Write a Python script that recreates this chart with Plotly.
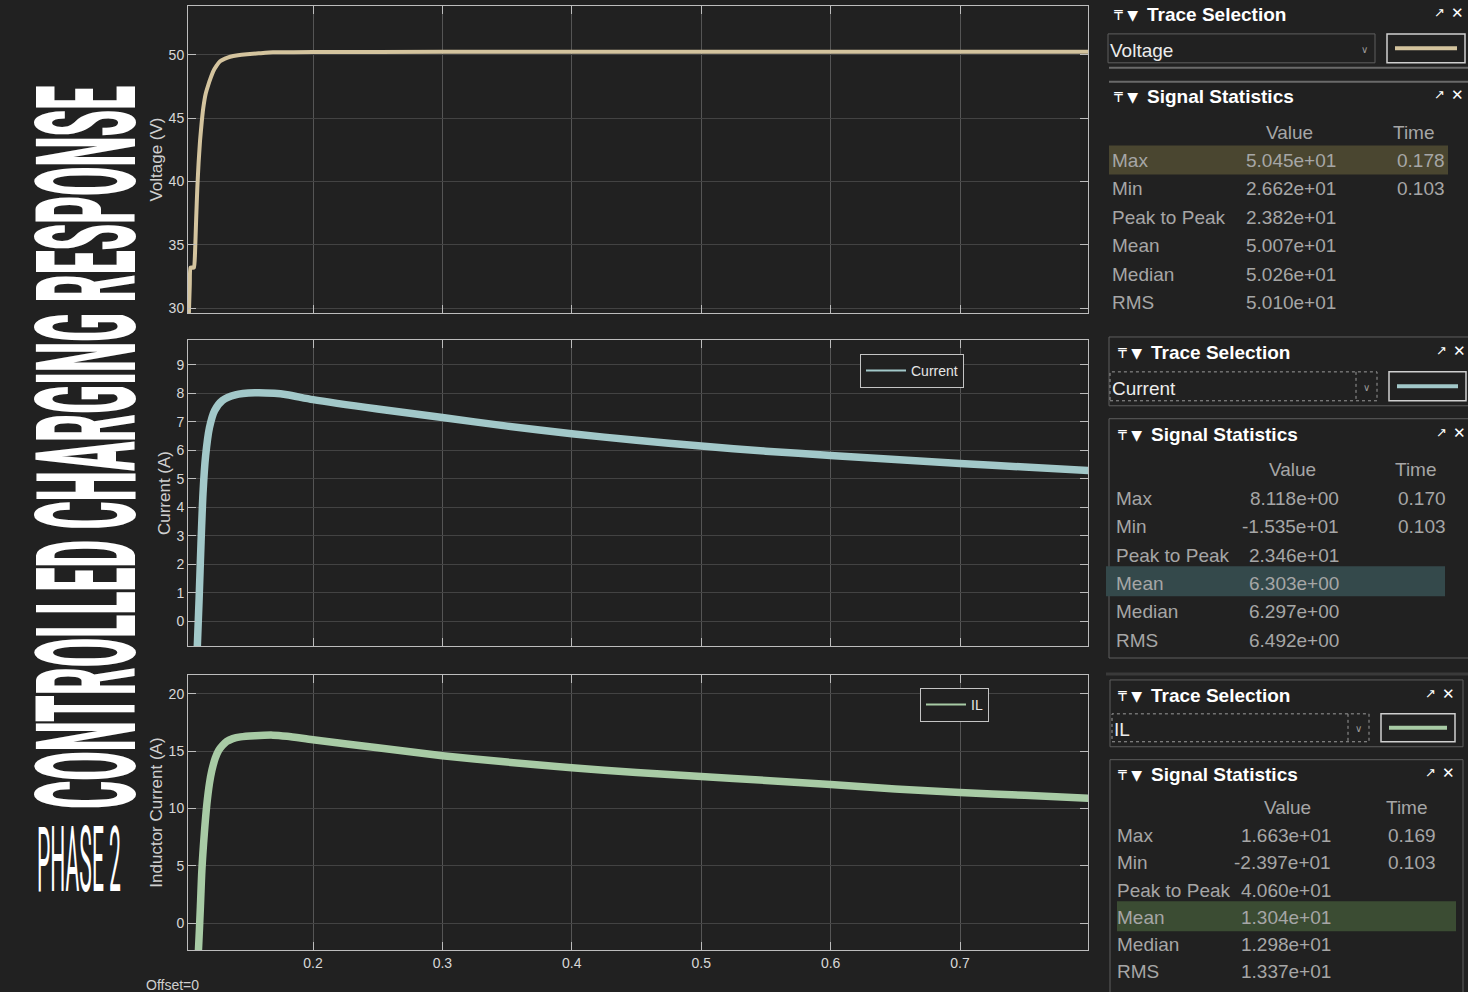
import json
import plotly.graph_objects as go

W, H = 1468, 992

# ---------------- data ----------------
time_v = [0.1033, 0.1040, 0.1048, 0.1053, 0.1080, 0.1088, 0.1097, 0.1106, 0.1116, 0.1127,
          0.1140, 0.1152, 0.1170, 0.1190, 0.1210, 0.1229, 0.1255, 0.1282, 0.1320, 0.1360,
          0.1420, 0.1490, 0.1580, 0.1690, 0.2000, 0.3000, 0.4000, 0.5000, 0.6000, 0.7000, 0.8000]
voltage = [26.62, 29.3, 31.9, 33.2, 33.2, 34.3, 37.0, 39.5, 41.5, 43.2,
           44.7, 45.8, 46.9, 47.6, 48.2, 48.7, 49.15, 49.5, 49.7, 49.85,
           49.97, 50.05, 50.12, 50.2, 50.22, 50.24, 50.24, 50.24, 50.24, 50.24, 50.24]

time_i = [0.1033, 0.1060, 0.1090, 0.1105, 0.1120, 0.1135, 0.1150, 0.1170, 0.1200, 0.1240,
          0.1300, 0.1400, 0.1550, 0.1700, 0.1800, 0.2000, 0.2500, 0.3000, 0.3500, 0.4000,
          0.4500, 0.5000, 0.5500, 0.6000, 0.6500, 0.7000, 0.7500, 0.8000]
current = [-15.35, -9.0, -3.0, -1.0, 0.8, 2.8, 4.5, 5.8, 6.8, 7.4,
           7.75, 7.95, 8.02, 8.0, 7.95, 7.78, 7.45, 7.15, 6.85, 6.58,
           6.35, 6.15, 5.97, 5.82, 5.68, 5.54, 5.41, 5.29]

time_il = [0.1033, 0.1080, 0.1100, 0.1115, 0.1130, 0.1141, 0.1160, 0.1180, 0.1200, 0.1218,
           0.1245, 0.1270, 0.1300, 0.1334, 0.1380, 0.1440, 0.1550, 0.1690, 0.1800, 0.2000,
           0.2500, 0.3000, 0.3500, 0.4000, 0.4500, 0.5000, 0.5500, 0.6000, 0.6500, 0.7000,
           0.7500, 0.8000]
inductor_current = [-23.97, -10.0, -5.0, -2.3, 1.5, 4.6, 7.8, 10.4, 12.2, 13.3,
                    14.4, 15.05, 15.5, 15.85, 16.1, 16.25, 16.35, 16.4, 16.3, 16.0,
                    15.3, 14.6, 14.05, 13.55, 13.15, 12.8, 12.45, 12.1, 11.7, 11.4,
                    11.15, 10.9]

x_ticks = [0.2, 0.3, 0.4, 0.5, 0.6, 0.7]
x_tick_labels = ["0.2", "0.3", "0.4", "0.5", "0.6", "0.7"]
v_ticks = [30, 35, 40, 45, 50]
i_ticks = [0, 1, 2, 3, 4, 5, 6, 7, 8, 9]
il_ticks = [0, 5, 10, 15, 20]

stat_names = ["Max", "Min", "Peak to Peak", "Mean", "Median", "RMS"]
voltage_stat_values = ["5.045e+01", "2.662e+01", "2.382e+01", "5.007e+01", "5.026e+01", "5.010e+01"]
voltage_stat_times = ["0.178", "0.103", "", "", "", ""]
current_stat_values = ["8.118e+00", "-1.535e+01", "2.346e+01", "6.303e+00", "6.297e+00", "6.492e+00"]
current_stat_times = ["0.170", "0.103", "", "", "", ""]
il_stat_values = ["1.663e+01", "-2.397e+01", "4.060e+01", "1.304e+01", "1.298e+01", "1.337e+01"]
il_stat_times = ["0.169", "0.103", "", "", "", ""]

title_text = "CONTROLLED CHARGING RESPONSE"
phase_text = "PHASE 2"

# ---------------- styling ----------------
BG = "#212121"
UI = "Liberation Sans, Arial, sans-serif"
C_V = "#d4c49e"
C_I = "#a2c8c9"
C_IL = "#a8cba5"
TXT = "#a6a6a6"
BORDER = "#5e5e5e"


def X(px):
    return px / W


def Y(py):
    return 1 - py / H


fig = go.Figure()
fig.add_trace(go.Scatter(x=time_v, y=voltage, name="Voltage", mode="lines",
                         line=dict(color=C_V, width=4, shape="spline", smoothing=0.4),
                         xaxis="x", yaxis="y", showlegend=False))
fig.add_trace(go.Scatter(x=time_i, y=current, name="Current", mode="lines",
                         line=dict(color=C_I, width=7.5, shape="spline", smoothing=0.7),
                         xaxis="x2", yaxis="y2", showlegend=False))
fig.add_trace(go.Scatter(x=time_il, y=inductor_current, name="IL", mode="lines",
                         line=dict(color=C_IL, width=7.5, shape="spline", smoothing=0.7),
                         xaxis="x3", yaxis="y3", showlegend=False))
# thin legend entries
fig.add_trace(go.Scatter(x=[None], y=[None], name="Current", mode="lines",
                         line=dict(color=C_I, width=2), xaxis="x2", yaxis="y2",
                         legend="legend"))
fig.add_trace(go.Scatter(x=[None], y=[None], name="IL", mode="lines",
                         line=dict(color=C_IL, width=2), xaxis="x3", yaxis="y3",
                         legend="legend2"))

x_dom = [X(188), X(1088)]
y_doms = [[Y(314), Y(6)], [Y(648), Y(341)], [Y(953), Y(677)]]
y_ranges = [[29.61, 53.86], [-0.875, 9.875], [-2.35, 21.65]]
y_tickvals = [v_ticks, i_ticks, il_ticks]
y_titles = ["Voltage (V)", "Current (A)", "Inductor Current (A)"]

axis_common = dict(showline=True, mirror="allticks", linecolor="#bdbdbd", linewidth=1,
                   ticks="inside", ticklen=8, tickcolor="#bdbdbd", zeroline=False,
                   tickfont=dict(family=UI, size=14, color="#d8d8d8"))

layout_axes = {}
for k in range(3):
    xs = "xaxis" if k == 0 else f"xaxis{k + 1}"
    ys = "yaxis" if k == 0 else f"yaxis{k + 1}"
    anchor_y = "y" if k == 0 else f"y{k + 1}"
    anchor_x = "x" if k == 0 else f"x{k + 1}"
    layout_axes[xs] = dict(domain=x_dom, anchor=anchor_y, range=[0.1034, 0.7989],
                           tickvals=x_ticks, ticktext=x_tick_labels,
                           showticklabels=(k == 2), showgrid=True, gridcolor="#555555",
                           **axis_common)
    layout_axes[ys] = dict(domain=y_doms[k], anchor=anchor_x, range=y_ranges[k],
                           tickvals=y_tickvals[k], showgrid=True, gridcolor="#434343",
                           title=dict(text=y_titles[k], standoff=1,
                                      font=dict(family=UI, size=17, color="#d0d0d0")),
                           **axis_common)

shapes = []
ann = []


def rect(x0, y0, x1, y1, line=BORDER, fill=None, width=1, dash=None):
    d = dict(type="rect", xref="paper", yref="paper", x0=X(x0), x1=X(x1), y0=Y(y1), y1=Y(y0),
             line=dict(color=line, width=width))
    if dash:
        d["line"]["dash"] = dash
    if fill:
        d["fillcolor"] = fill
    if line is None:
        d["line"] = dict(width=0)
    shapes.append(d)


def hline(x0, x1, y, color=BORDER, width=1, dash=None):
    d = dict(type="line", xref="paper", yref="paper", x0=X(x0), x1=X(x1), y0=Y(y), y1=Y(y),
             line=dict(color=color, width=width))
    if dash:
        d["line"]["dash"] = dash
    shapes.append(d)


def vline(x, y0, y1, color=BORDER, width=1, dash=None):
    d = dict(type="line", xref="paper", yref="paper", x0=X(x), x1=X(x), y0=Y(y0), y1=Y(y1),
             line=dict(color=color, width=width))
    if dash:
        d["line"]["dash"] = dash
    shapes.append(d)


def txt(x, y, s, size=19, color=TXT, anchor="left", weight="normal", family=UI, angle=0):
    ann.append(dict(x=X(x), y=Y(y + 1), xref="paper", yref="paper", text=s, showarrow=False,
                    xanchor=anchor, yanchor="middle", textangle=angle, borderpad=0,
                    font=dict(family=family, size=size, color=color, weight=weight)))


def header(x_icon, y, title, x_close):
    txt(x_icon, y, "₸ ▼", size=14, color="#ffffff", family="DejaVu Sans")
    txt(x_icon + 33, y, title, size=19, color="#ffffff", weight="bold")
    txt(x_close, y - 2, "↗", size=13, color="#ffffff", anchor="center", family="DejaVu Sans")
    txt(x_close + 18, y - 2, "✕", size=15, color="#ffffff", anchor="center", family="DejaVu Sans")


def stats_block(y_head, x_label, x_val_right, x_time_right, x_value_c, x_time_c,
                row_ys, values, times):
    txt(x_value_c, y_head, "Value", color=TXT, anchor="center")
    txt(x_time_c, y_head, "Time", color=TXT, anchor="center")
    for name, val, tm, yy in zip(stat_names, values, times, row_ys):
        txt(x_label, yy, name)
        txt(x_val_right, yy, val, anchor="right")
        if tm:
            txt(x_time_right, yy, tm, anchor="right")


def trace_selector(x0, y0, x1, y1, sep, label, sample_x0, sample_x1, color, dotted):
    if dotted:
        rect(x0, y0, x1, y1, line="#9a9a9a", dash="dot")
        vline(sep, y0, y1, color="#9a9a9a", dash="dot")
    else:
        rect(x0, y0, x1, y1, line=BORDER)
    txt(x0 + 1, (y0 + y1) / 2 + 1, label, size=19, color="#ececec")
    txt((sep + x1) / 2 if dotted else x1 - 11, (y0 + y1) / 2, "∨", size=10, color="#9a9a9a",
        anchor="center", family="DejaVu Sans")
    rect(sample_x0, y0, sample_x1, y1, line="#cfcfcf", width=1.5)
    hline(sample_x0 + 8, sample_x1 - 8, (y0 + y1) / 2, color=color, width=4)


# ---- panel 1 : Voltage ----
header(1113, 14, "Trace Selection", 1439)
trace_selector(1108, 34, 1375, 63, 1375, "Voltage", 1387, 1465, C_V, False)
hline(1109, 1468, 68, color="#6a6a6a", width=2)
hline(1109, 1468, 82, color="#6a6a6a", width=2)
header(1113, 96, "Signal Statistics", 1439)
rect(1109, 146, 1448, 175, line=None, fill="#4a4630")
stats_block(132, 1111, 1337, 1446, 1289, 1414, [160, 188, 217, 245, 274, 302],
            voltage_stat_values, voltage_stat_times)

# ---- panel 2 : Current ----
rect(1109, 338, 1480, 407, line=BORDER)
header(1117, 353, "Trace Selection", 1441)
trace_selector(1110, 373, 1377, 402, 1356, "Current", 1389, 1466, C_I, True)
rect(1109, 420, 1480, 660, line=BORDER)
header(1117, 435, "Signal Statistics", 1441)
rect(1106, 568, 1445, 598, line=None, fill="#34494b")
stats_block(470, 1115, 1340, 1447, 1292, 1416, [499, 527, 556, 584, 612, 641],
            current_stat_values, current_stat_times)

# ---- panel 3 : IL ----
hline(1106, 1468, 676, color="#3a3a3a", width=3)
rect(1110, 682, 1463, 749, line=BORDER)
header(1117, 697, "Trace Selection", 1430)
trace_selector(1112, 716, 1369, 744, 1348, "IL", 1381, 1455, C_IL, True)
rect(1110, 762, 1463, 1010, line=BORDER)
header(1117, 776, "Signal Statistics", 1430)
rect(1117, 904, 1456, 934, line=None, fill="#3b4c33")
stats_block(809, 1116, 1332, 1437, 1287, 1407, [837, 864, 892, 919, 946, 973],
            il_stat_values, il_stat_times)

# ---- left titles ----
txt(87, 448, title_text, size=140, color="#ffffff", anchor="center", weight=900,
    family="Roboto, Liberation Sans, sans-serif", angle=-90)
txt(78.5, 862, phase_text, size=90, color="#ffffff", anchor="center", weight=400,
    family="Roboto, Liberation Sans, sans-serif")

# ---- offset label ----
txt(145, 987, "Offset=0", size=14, color="#cfcfcf")

legend_common = dict(xanchor="left", yanchor="top", bgcolor=BG, bordercolor="#c4c4c4",
                     borderwidth=1, font=dict(family=UI, size=14, color="#e6e6e6"),
                     itemwidth=40, tracegroupgap=0)

fig.update_layout(
    width=W, height=H, autosize=False,
    margin=dict(l=0, r=0, t=0, b=0),
    paper_bgcolor=BG, plot_bgcolor=BG,
    showlegend=True,
    legend=dict(x=X(860), y=Y(355), **legend_common),
    legend2=dict(x=X(920), y=Y(690), **legend_common),
    shapes=shapes, annotations=ann,
    **layout_axes,
)

squeeze = {title_text: 723, phase_text: 84}
post = """
document.documentElement.style.margin = '0';
document.documentElement.style.padding = '0';
document.documentElement.style.background = '%s';
document.body.style.margin = '0';
document.body.style.padding = '0';
document.body.style.background = '%s';
document.body.style.overflow = 'hidden';
var gd = document.getElementById('{plot_id}');
var specs = %s;
gd.querySelectorAll('text.annotation-text').forEach(function(el){
  var target = specs[el.textContent];
  if (!target) return;
  var bb = el.getBBox();
  if (!bb.width) return;
  var cx = bb.x + bb.width / 2;
  var s = target / bb.width;
  var prev = el.getAttribute('transform') || '';
  el.setAttribute('transform', prev + ' translate(' + cx + ',0) scale(' + s + ',1) translate(' + (-cx) + ',0)');
});
""" % (BG, BG, json.dumps(squeeze))

fig.write_html("out.html", config={"displayModeBar": False}, post_script=post)
